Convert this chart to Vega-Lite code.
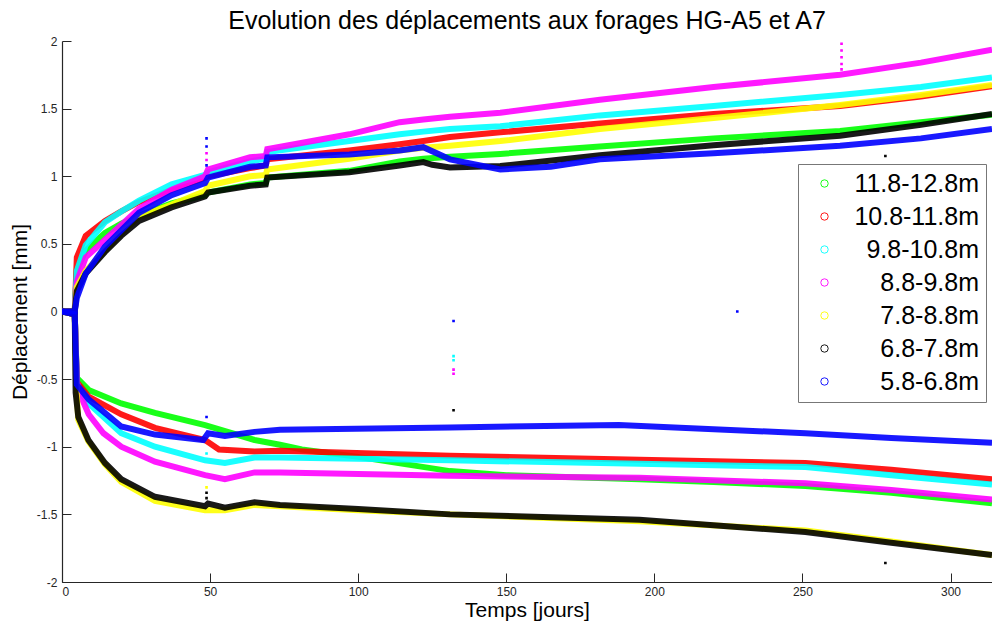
{
  "$schema": "https://vega.github.io/schema/vega-lite/v6.json",
  "width": 930,
  "height": 541,
  "autosize": {"type": "none"},
  "padding": {"left": 62, "top": 41, "right": 0, "bottom": 46},
  "background": "white",
  "title": {
    "text": "Evolution des déplacements aux forages HG-A5 et A7",
    "font": "Liberation Sans",
    "fontSize": 25,
    "fontWeight": "normal",
    "color": "black",
    "anchor": "middle",
    "baseline": "alphabetic",
    "offset": 12,
    "dy": 31
  },
  "config": {
    "view": {"stroke": null},
    "axis": {
      "domainColor": "#262626",
      "domainWidth": 1.2,
      "tickColor": "#262626",
      "tickWidth": 1,
      "tickSize": -9,
      "labelFont": "Liberation Sans",
      "labelFontSize": 12,
      "labelColor": "#262626",
      "titleFont": "Liberation Sans",
      "titleFontSize": 21,
      "titleFontWeight": "normal",
      "titleColor": "black",
      "grid": false
    },
    "legend": {
      "orient": "none",
      "legendX": 736,
      "legendY": 123,
      "strokeColor": "#777777",
      "fillColor": "white",
      "padding": 7,
      "symbolType": "circle",
      "symbolSize": 55,
      "symbolStrokeWidth": 1,
      "symbolFillColor": "transparent",
      "symbolOffset": 7,
      "labelFont": "Liberation Sans",
      "labelFontSize": 25,
      "labelColor": "black",
      "labelAlign": "right",
      "labelOffset": 142,
      "labelLimit": 400,
      "rowPadding": 7,
      "title": null
    }
  },
  "datasets": {
    "series": [
      {"f":"A5","z":"11.8-12.8m","t":0,"d":0},{"f":"A5","z":"11.8-12.8m","t":4.3,"d":0},{"f":"A5","z":"11.8-12.8m","t":5,"d":0.31},{"f":"A5","z":"11.8-12.8m","t":8,"d":0.45},{"f":"A5","z":"11.8-12.8m","t":14.5,"d":0.58},{"f":"A5","z":"11.8-12.8m","t":20,"d":0.65},{"f":"A5","z":"11.8-12.8m","t":26,"d":0.71},{"f":"A5","z":"11.8-12.8m","t":37,"d":0.8},{"f":"A5","z":"11.8-12.8m","t":48.3,"d":0.86},{"f":"A5","z":"11.8-12.8m","t":49.3,"d":0.88},{"f":"A5","z":"11.8-12.8m","t":63.5,"d":0.94},{"f":"A5","z":"11.8-12.8m","t":68.8,"d":0.95},{"f":"A5","z":"11.8-12.8m","t":69.3,"d":0.99},{"f":"A5","z":"11.8-12.8m","t":97,"d":1.04},{"f":"A5","z":"11.8-12.8m","t":114,"d":1.11},{"f":"A5","z":"11.8-12.8m","t":122,"d":1.13},{"f":"A5","z":"11.8-12.8m","t":131,"d":1.145},{"f":"A5","z":"11.8-12.8m","t":148,"d":1.165},{"f":"A5","z":"11.8-12.8m","t":181.6,"d":1.22},{"f":"A5","z":"11.8-12.8m","t":220,"d":1.28},{"f":"A5","z":"11.8-12.8m","t":262.7,"d":1.335},{"f":"A5","z":"11.8-12.8m","t":290,"d":1.4},{"f":"A5","z":"11.8-12.8m","t":314,"d":1.455},
      {"f":"A7","z":"11.8-12.8m","t":0,"d":0},{"f":"A7","z":"11.8-12.8m","t":4.3,"d":-0.02},{"f":"A7","z":"11.8-12.8m","t":5,"d":-0.49},{"f":"A7","z":"11.8-12.8m","t":9,"d":-0.58},{"f":"A7","z":"11.8-12.8m","t":20,"d":-0.68},{"f":"A7","z":"11.8-12.8m","t":31.4,"d":-0.75},{"f":"A7","z":"11.8-12.8m","t":48.3,"d":-0.84},{"f":"A7","z":"11.8-12.8m","t":65,"d":-0.95},{"f":"A7","z":"11.8-12.8m","t":73.6,"d":-0.985},{"f":"A7","z":"11.8-12.8m","t":81,"d":-1.02},{"f":"A7","z":"11.8-12.8m","t":100,"d":-1.075},{"f":"A7","z":"11.8-12.8m","t":131,"d":-1.18},{"f":"A7","z":"11.8-12.8m","t":150,"d":-1.21},{"f":"A7","z":"11.8-12.8m","t":195,"d":-1.24},{"f":"A7","z":"11.8-12.8m","t":220,"d":-1.26},{"f":"A7","z":"11.8-12.8m","t":251,"d":-1.29},{"f":"A7","z":"11.8-12.8m","t":280,"d":-1.34},{"f":"A7","z":"11.8-12.8m","t":314,"d":-1.417},
      {"f":"A5","z":"10.8-11.8m","t":0,"d":0},{"f":"A5","z":"10.8-11.8m","t":4.3,"d":0},{"f":"A5","z":"10.8-11.8m","t":5,"d":0.4},{"f":"A5","z":"10.8-11.8m","t":8,"d":0.56},{"f":"A5","z":"10.8-11.8m","t":14.5,"d":0.67},{"f":"A5","z":"10.8-11.8m","t":20,"d":0.74},{"f":"A5","z":"10.8-11.8m","t":26,"d":0.81},{"f":"A5","z":"10.8-11.8m","t":37,"d":0.9},{"f":"A5","z":"10.8-11.8m","t":48.3,"d":0.99},{"f":"A5","z":"10.8-11.8m","t":49.3,"d":1.0},{"f":"A5","z":"10.8-11.8m","t":63.5,"d":1.06},{"f":"A5","z":"10.8-11.8m","t":68.8,"d":1.08},{"f":"A5","z":"10.8-11.8m","t":69.3,"d":1.125},{"f":"A5","z":"10.8-11.8m","t":97,"d":1.19},{"f":"A5","z":"10.8-11.8m","t":114,"d":1.237},{"f":"A5","z":"10.8-11.8m","t":122,"d":1.26},{"f":"A5","z":"10.8-11.8m","t":131,"d":1.29},{"f":"A5","z":"10.8-11.8m","t":148,"d":1.325},{"f":"A5","z":"10.8-11.8m","t":181.6,"d":1.39},{"f":"A5","z":"10.8-11.8m","t":220,"d":1.46},{"f":"A5","z":"10.8-11.8m","t":262.7,"d":1.52},{"f":"A5","z":"10.8-11.8m","t":290,"d":1.59},{"f":"A5","z":"10.8-11.8m","t":314,"d":1.665},
      {"f":"A7","z":"10.8-11.8m","t":0,"d":0},{"f":"A7","z":"10.8-11.8m","t":4.3,"d":-0.02},{"f":"A7","z":"10.8-11.8m","t":5,"d":-0.52},{"f":"A7","z":"10.8-11.8m","t":9,"d":-0.63},{"f":"A7","z":"10.8-11.8m","t":20,"d":-0.76},{"f":"A7","z":"10.8-11.8m","t":31.4,"d":-0.86},{"f":"A7","z":"10.8-11.8m","t":48.3,"d":-0.95},{"f":"A7","z":"10.8-11.8m","t":53,"d":-1.02},{"f":"A7","z":"10.8-11.8m","t":65,"d":-1.035},{"f":"A7","z":"10.8-11.8m","t":73.6,"d":-1.03},{"f":"A7","z":"10.8-11.8m","t":131,"d":-1.067},{"f":"A7","z":"10.8-11.8m","t":195,"d":-1.096},{"f":"A7","z":"10.8-11.8m","t":251,"d":-1.12},{"f":"A7","z":"10.8-11.8m","t":280,"d":-1.17},{"f":"A7","z":"10.8-11.8m","t":314,"d":-1.24},
      {"f":"A5","z":"9.8-10.8m","t":0,"d":0},{"f":"A5","z":"9.8-10.8m","t":4.3,"d":0},{"f":"A5","z":"9.8-10.8m","t":5,"d":0.3},{"f":"A5","z":"9.8-10.8m","t":8,"d":0.49},{"f":"A5","z":"9.8-10.8m","t":14.5,"d":0.66},{"f":"A5","z":"9.8-10.8m","t":20,"d":0.74},{"f":"A5","z":"9.8-10.8m","t":26,"d":0.82},{"f":"A5","z":"9.8-10.8m","t":37,"d":0.94},{"f":"A5","z":"9.8-10.8m","t":48.3,"d":1.01},{"f":"A5","z":"9.8-10.8m","t":49.3,"d":1.03},{"f":"A5","z":"9.8-10.8m","t":63.5,"d":1.11},{"f":"A5","z":"9.8-10.8m","t":68.8,"d":1.13},{"f":"A5","z":"9.8-10.8m","t":69.3,"d":1.18},{"f":"A5","z":"9.8-10.8m","t":97,"d":1.26},{"f":"A5","z":"9.8-10.8m","t":114,"d":1.31},{"f":"A5","z":"9.8-10.8m","t":122,"d":1.33},{"f":"A5","z":"9.8-10.8m","t":131,"d":1.35},{"f":"A5","z":"9.8-10.8m","t":148,"d":1.37},{"f":"A5","z":"9.8-10.8m","t":181.6,"d":1.45},{"f":"A5","z":"9.8-10.8m","t":220,"d":1.52},{"f":"A5","z":"9.8-10.8m","t":262.7,"d":1.6},{"f":"A5","z":"9.8-10.8m","t":290,"d":1.66},{"f":"A5","z":"9.8-10.8m","t":314,"d":1.73},
      {"f":"A7","z":"9.8-10.8m","t":0,"d":0},{"f":"A7","z":"9.8-10.8m","t":4.3,"d":-0.02},{"f":"A7","z":"9.8-10.8m","t":5,"d":-0.56},{"f":"A7","z":"9.8-10.8m","t":9,"d":-0.68},{"f":"A7","z":"9.8-10.8m","t":20,"d":-0.9},{"f":"A7","z":"9.8-10.8m","t":31.4,"d":-1.0},{"f":"A7","z":"9.8-10.8m","t":48.3,"d":-1.1},{"f":"A7","z":"9.8-10.8m","t":55,"d":-1.12},{"f":"A7","z":"9.8-10.8m","t":65,"d":-1.08},{"f":"A7","z":"9.8-10.8m","t":73.6,"d":-1.08},{"f":"A7","z":"9.8-10.8m","t":131,"d":-1.1},{"f":"A7","z":"9.8-10.8m","t":195,"d":-1.126},{"f":"A7","z":"9.8-10.8m","t":251,"d":-1.15},{"f":"A7","z":"9.8-10.8m","t":280,"d":-1.21},{"f":"A7","z":"9.8-10.8m","t":314,"d":-1.28},
      {"f":"A5","z":"8.8-9.8m","t":0,"d":0},{"f":"A5","z":"8.8-9.8m","t":4.3,"d":0},{"f":"A5","z":"8.8-9.8m","t":5,"d":0.22},{"f":"A5","z":"8.8-9.8m","t":8,"d":0.4},{"f":"A5","z":"8.8-9.8m","t":14.5,"d":0.53},{"f":"A5","z":"8.8-9.8m","t":20,"d":0.64},{"f":"A5","z":"8.8-9.8m","t":26,"d":0.76},{"f":"A5","z":"8.8-9.8m","t":37,"d":0.9},{"f":"A5","z":"8.8-9.8m","t":48.3,"d":1.0},{"f":"A5","z":"8.8-9.8m","t":49.3,"d":1.05},{"f":"A5","z":"8.8-9.8m","t":63.5,"d":1.14},{"f":"A5","z":"8.8-9.8m","t":68.8,"d":1.15},{"f":"A5","z":"8.8-9.8m","t":69.3,"d":1.2},{"f":"A5","z":"8.8-9.8m","t":97,"d":1.31},{"f":"A5","z":"8.8-9.8m","t":114,"d":1.4},{"f":"A5","z":"8.8-9.8m","t":122,"d":1.42},{"f":"A5","z":"8.8-9.8m","t":131,"d":1.44},{"f":"A5","z":"8.8-9.8m","t":148,"d":1.47},{"f":"A5","z":"8.8-9.8m","t":181.6,"d":1.565},{"f":"A5","z":"8.8-9.8m","t":220,"d":1.66},{"f":"A5","z":"8.8-9.8m","t":262.7,"d":1.75},{"f":"A5","z":"8.8-9.8m","t":290,"d":1.84},{"f":"A5","z":"8.8-9.8m","t":314,"d":1.935},
      {"f":"A7","z":"8.8-9.8m","t":0,"d":0},{"f":"A7","z":"8.8-9.8m","t":4.3,"d":-0.02},{"f":"A7","z":"8.8-9.8m","t":5,"d":-0.52},{"f":"A7","z":"8.8-9.8m","t":7,"d":-0.66},{"f":"A7","z":"8.8-9.8m","t":9,"d":-0.76},{"f":"A7","z":"8.8-9.8m","t":14,"d":-0.9},{"f":"A7","z":"8.8-9.8m","t":20,"d":-1.0},{"f":"A7","z":"8.8-9.8m","t":31.4,"d":-1.11},{"f":"A7","z":"8.8-9.8m","t":48.3,"d":-1.21},{"f":"A7","z":"8.8-9.8m","t":55,"d":-1.24},{"f":"A7","z":"8.8-9.8m","t":65,"d":-1.19},{"f":"A7","z":"8.8-9.8m","t":73.6,"d":-1.19},{"f":"A7","z":"8.8-9.8m","t":131,"d":-1.215},{"f":"A7","z":"8.8-9.8m","t":195,"d":-1.23},{"f":"A7","z":"8.8-9.8m","t":251,"d":-1.27},{"f":"A7","z":"8.8-9.8m","t":280,"d":-1.32},{"f":"A7","z":"8.8-9.8m","t":314,"d":-1.39},
      {"f":"A5","z":"7.8-8.8m","t":0,"d":0},{"f":"A5","z":"7.8-8.8m","t":4.3,"d":0},{"f":"A5","z":"7.8-8.8m","t":5,"d":0.18},{"f":"A5","z":"7.8-8.8m","t":8,"d":0.3},{"f":"A5","z":"7.8-8.8m","t":14.5,"d":0.45},{"f":"A5","z":"7.8-8.8m","t":20,"d":0.58},{"f":"A5","z":"7.8-8.8m","t":26,"d":0.7},{"f":"A5","z":"7.8-8.8m","t":37,"d":0.79},{"f":"A5","z":"7.8-8.8m","t":48.3,"d":0.89},{"f":"A5","z":"7.8-8.8m","t":49.3,"d":0.93},{"f":"A5","z":"7.8-8.8m","t":63.5,"d":1.0},{"f":"A5","z":"7.8-8.8m","t":68.8,"d":1.01},{"f":"A5","z":"7.8-8.8m","t":69.3,"d":1.05},{"f":"A5","z":"7.8-8.8m","t":97,"d":1.13},{"f":"A5","z":"7.8-8.8m","t":114,"d":1.19},{"f":"A5","z":"7.8-8.8m","t":122,"d":1.21},{"f":"A5","z":"7.8-8.8m","t":131,"d":1.225},{"f":"A5","z":"7.8-8.8m","t":148,"d":1.26},{"f":"A5","z":"7.8-8.8m","t":181.6,"d":1.35},{"f":"A5","z":"7.8-8.8m","t":220,"d":1.43},{"f":"A5","z":"7.8-8.8m","t":262.7,"d":1.526},{"f":"A5","z":"7.8-8.8m","t":290,"d":1.6},{"f":"A5","z":"7.8-8.8m","t":314,"d":1.675},
      {"f":"A7","z":"7.8-8.8m","t":0,"d":0},{"f":"A7","z":"7.8-8.8m","t":4.3,"d":-0.02},{"f":"A7","z":"7.8-8.8m","t":5,"d":-0.62},{"f":"A7","z":"7.8-8.8m","t":5.5,"d":-0.8},{"f":"A7","z":"7.8-8.8m","t":8.9,"d":-0.96},{"f":"A7","z":"7.8-8.8m","t":14.5,"d":-1.13},{"f":"A7","z":"7.8-8.8m","t":20,"d":-1.26},{"f":"A7","z":"7.8-8.8m","t":31.4,"d":-1.4},{"f":"A7","z":"7.8-8.8m","t":48.3,"d":-1.47},{"f":"A7","z":"7.8-8.8m","t":55,"d":-1.47},{"f":"A7","z":"7.8-8.8m","t":65,"d":-1.43},{"f":"A7","z":"7.8-8.8m","t":73.6,"d":-1.44},{"f":"A7","z":"7.8-8.8m","t":100,"d":-1.47},{"f":"A7","z":"7.8-8.8m","t":131,"d":-1.5},{"f":"A7","z":"7.8-8.8m","t":195,"d":-1.55},{"f":"A7","z":"7.8-8.8m","t":251,"d":-1.62},{"f":"A7","z":"7.8-8.8m","t":280,"d":-1.7},{"f":"A7","z":"7.8-8.8m","t":314,"d":-1.8},
      {"f":"A5","z":"6.8-7.8m","t":0,"d":0},{"f":"A5","z":"6.8-7.8m","t":4.3,"d":0},{"f":"A5","z":"6.8-7.8m","t":5,"d":0.15},{"f":"A5","z":"6.8-7.8m","t":8,"d":0.28},{"f":"A5","z":"6.8-7.8m","t":14.5,"d":0.44},{"f":"A5","z":"6.8-7.8m","t":20,"d":0.56},{"f":"A5","z":"6.8-7.8m","t":26,"d":0.67},{"f":"A5","z":"6.8-7.8m","t":37,"d":0.77},{"f":"A5","z":"6.8-7.8m","t":48.3,"d":0.85},{"f":"A5","z":"6.8-7.8m","t":49.3,"d":0.88},{"f":"A5","z":"6.8-7.8m","t":63.5,"d":0.93},{"f":"A5","z":"6.8-7.8m","t":68.8,"d":0.94},{"f":"A5","z":"6.8-7.8m","t":69.3,"d":0.99},{"f":"A5","z":"6.8-7.8m","t":97,"d":1.03},{"f":"A5","z":"6.8-7.8m","t":114,"d":1.08},{"f":"A5","z":"6.8-7.8m","t":122,"d":1.105},{"f":"A5","z":"6.8-7.8m","t":125,"d":1.085},{"f":"A5","z":"6.8-7.8m","t":131,"d":1.065},{"f":"A5","z":"6.8-7.8m","t":148,"d":1.075},{"f":"A5","z":"6.8-7.8m","t":181.6,"d":1.155},{"f":"A5","z":"6.8-7.8m","t":220,"d":1.23},{"f":"A5","z":"6.8-7.8m","t":262.7,"d":1.3},{"f":"A5","z":"6.8-7.8m","t":290,"d":1.38},{"f":"A5","z":"6.8-7.8m","t":314,"d":1.46},
      {"f":"A7","z":"6.8-7.8m","t":0,"d":0},{"f":"A7","z":"6.8-7.8m","t":4.3,"d":-0.02},{"f":"A7","z":"6.8-7.8m","t":4.6,"d":-0.6},{"f":"A7","z":"6.8-7.8m","t":5.5,"d":-0.78},{"f":"A7","z":"6.8-7.8m","t":8.9,"d":-0.95},{"f":"A7","z":"6.8-7.8m","t":14.5,"d":-1.12},{"f":"A7","z":"6.8-7.8m","t":20,"d":-1.24},{"f":"A7","z":"6.8-7.8m","t":31.4,"d":-1.37},{"f":"A7","z":"6.8-7.8m","t":48.3,"d":-1.44},{"f":"A7","z":"6.8-7.8m","t":49.3,"d":-1.42},{"f":"A7","z":"6.8-7.8m","t":55,"d":-1.45},{"f":"A7","z":"6.8-7.8m","t":65,"d":-1.41},{"f":"A7","z":"6.8-7.8m","t":73.6,"d":-1.43},{"f":"A7","z":"6.8-7.8m","t":100,"d":-1.46},{"f":"A7","z":"6.8-7.8m","t":131,"d":-1.5},{"f":"A7","z":"6.8-7.8m","t":195,"d":-1.54},{"f":"A7","z":"6.8-7.8m","t":251,"d":-1.63},{"f":"A7","z":"6.8-7.8m","t":280,"d":-1.71},{"f":"A7","z":"6.8-7.8m","t":314,"d":-1.8},
      {"f":"A5","z":"5.8-6.8m","t":0,"d":0},{"f":"A5","z":"5.8-6.8m","t":4.3,"d":0},{"f":"A5","z":"5.8-6.8m","t":5,"d":0.1},{"f":"A5","z":"5.8-6.8m","t":8,"d":0.28},{"f":"A5","z":"5.8-6.8m","t":14.5,"d":0.48},{"f":"A5","z":"5.8-6.8m","t":20,"d":0.6},{"f":"A5","z":"5.8-6.8m","t":26,"d":0.73},{"f":"A5","z":"5.8-6.8m","t":37,"d":0.86},{"f":"A5","z":"5.8-6.8m","t":48.3,"d":0.95},{"f":"A5","z":"5.8-6.8m","t":49.3,"d":0.99},{"f":"A5","z":"5.8-6.8m","t":63.5,"d":1.07},{"f":"A5","z":"5.8-6.8m","t":68.8,"d":1.08},{"f":"A5","z":"5.8-6.8m","t":69.3,"d":1.14},{"f":"A5","z":"5.8-6.8m","t":97,"d":1.16},{"f":"A5","z":"5.8-6.8m","t":114,"d":1.19},{"f":"A5","z":"5.8-6.8m","t":122,"d":1.215},{"f":"A5","z":"5.8-6.8m","t":131,"d":1.125},{"f":"A5","z":"5.8-6.8m","t":148,"d":1.05},{"f":"A5","z":"5.8-6.8m","t":165,"d":1.07},{"f":"A5","z":"5.8-6.8m","t":181.6,"d":1.125},{"f":"A5","z":"5.8-6.8m","t":220,"d":1.17},{"f":"A5","z":"5.8-6.8m","t":262.7,"d":1.225},{"f":"A5","z":"5.8-6.8m","t":290,"d":1.28},{"f":"A5","z":"5.8-6.8m","t":314,"d":1.35},
      {"f":"A7","z":"5.8-6.8m","t":0,"d":0},{"f":"A7","z":"5.8-6.8m","t":4.3,"d":-0.02},{"f":"A7","z":"5.8-6.8m","t":5,"d":-0.54},{"f":"A7","z":"5.8-6.8m","t":9,"d":-0.65},{"f":"A7","z":"5.8-6.8m","t":20,"d":-0.85},{"f":"A7","z":"5.8-6.8m","t":31.4,"d":-0.91},{"f":"A7","z":"5.8-6.8m","t":47.7,"d":-0.95},{"f":"A7","z":"5.8-6.8m","t":49.3,"d":-0.9},{"f":"A7","z":"5.8-6.8m","t":55,"d":-0.92},{"f":"A7","z":"5.8-6.8m","t":65,"d":-0.89},{"f":"A7","z":"5.8-6.8m","t":73.6,"d":-0.875},{"f":"A7","z":"5.8-6.8m","t":131,"d":-0.857},{"f":"A7","z":"5.8-6.8m","t":188,"d":-0.84},{"f":"A7","z":"5.8-6.8m","t":251,"d":-0.9},{"f":"A7","z":"5.8-6.8m","t":280,"d":-0.936},{"f":"A7","z":"5.8-6.8m","t":314,"d":-0.97}
    ],
    "outliers": [
      {"z":"5.8-6.8m","t":48.8,"d":1.28},{"z":"5.8-6.8m","t":48.8,"d":1.22},{"z":"8.8-9.8m","t":48.8,"d":1.17},{"z":"8.8-9.8m","t":48.8,"d":1.12},{"z":"5.8-6.8m","t":48.8,"d":1.08},
      {"z":"5.8-6.8m","t":48.8,"d":-0.78},{"z":"9.8-10.8m","t":48.8,"d":-1.05},{"z":"7.8-8.8m","t":48.8,"d":-1.3},{"z":"6.8-7.8m","t":48.8,"d":-1.34},{"z":"6.8-7.8m","t":48.8,"d":-1.38},
      {"z":"5.8-6.8m","t":132.2,"d":-0.07},{"z":"9.8-10.8m","t":132.2,"d":-0.33},{"z":"9.8-10.8m","t":132.2,"d":-0.36},{"z":"8.8-9.8m","t":132.2,"d":-0.43},{"z":"8.8-9.8m","t":132.2,"d":-0.46},{"z":"6.8-7.8m","t":132.2,"d":-0.73},
      {"z":"8.8-9.8m","t":263.2,"d":1.98},{"z":"8.8-9.8m","t":263.2,"d":1.93},{"z":"8.8-9.8m","t":263.2,"d":1.88},{"z":"8.8-9.8m","t":263.2,"d":1.83},{"z":"8.8-9.8m","t":263.2,"d":1.79},
      {"z":"5.8-6.8m","t":228,"d":0.0},{"z":"6.8-7.8m","t":278,"d":-1.86},{"z":"6.8-7.8m","t":278,"d":1.15}
    ]
  },
  "encoding": {
    "x": {
      "field": "t", "type": "quantitative",
      "scale": {"domain": [0, 314], "nice": false, "zero": false},
      "axis": {"values": [0, 50, 100, 150, 200, 250, 300], "title": "Temps [jours]", "labelPadding": 13, "titlePadding": 2, "labelExpr": "'' + datum.value"}
    },
    "y": {
      "field": "d", "type": "quantitative",
      "scale": {"domain": [-2, 2], "nice": false},
      "axis": {"values": [-2, -1.5, -1, -0.5, 0, 0.5, 1, 1.5, 2], "title": "Déplacement [mm]", "labelPadding": 14, "titlePadding": 6, "labelExpr": "'' + datum.value"}
    },
    "color": {
      "field": "z", "type": "nominal",
      "scale": {
        "domain": ["11.8-12.8m", "10.8-11.8m", "9.8-10.8m", "8.8-9.8m", "7.8-8.8m", "6.8-7.8m", "5.8-6.8m"],
        "range": ["#00ff00", "#ff0000", "#00ffff", "#ff00ff", "#ffff00", "#000000", "#0000ff"]
      }
    }
  },
  "layer": [
    {
      "data": {"name": "series"},
      "mark": {"type": "line", "strokeWidth": 6, "opacity": 0.9, "clip": true},
      "encoding": {
        "detail": {"field": "f", "type": "nominal"},
        "order": {"field": "t", "type": "quantitative"}
      }
    },
    {
      "data": {"name": "outliers"},
      "mark": {"type": "square", "size": 2, "opacity": 1, "filled": false, "strokeWidth": 1.2, "clip": true},
      "encoding": {}
    }
  ]
}
